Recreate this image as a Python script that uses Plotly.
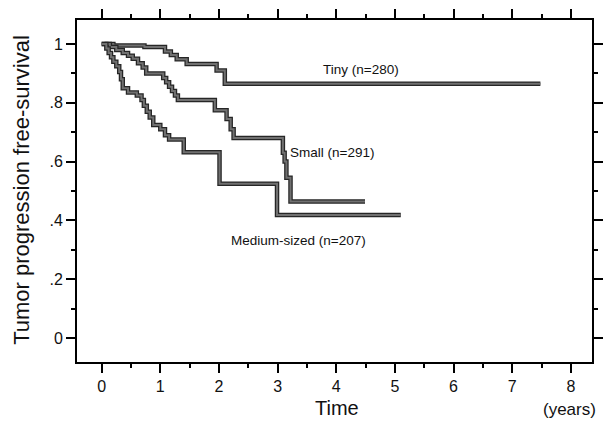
import plotly.graph_objects as go

# Kaplan-Meier step data (years, survival)
tiny_t = [0.0, 0.20, 0.73, 1.08, 1.18, 1.28, 1.45, 1.96, 2.10, 7.48]
tiny_s = [1.0, 0.995, 0.99, 0.975, 0.963, 0.948, 0.932, 0.91, 0.865, 0.865]

small_t = [0.05, 0.14, 0.25, 0.36, 0.45, 0.53, 0.62, 0.70, 0.76, 1.05, 1.10, 1.15, 1.20,
           1.25, 1.30, 1.93, 2.13, 2.20, 2.25, 3.09, 3.12, 3.15, 3.22, 4.49]
small_s = [1.0, 0.99, 0.98, 0.97, 0.96, 0.95, 0.935, 0.92, 0.90, 0.885, 0.87, 0.855, 0.84,
           0.825, 0.81, 0.775, 0.745, 0.71, 0.68, 0.63, 0.60, 0.545, 0.464, 0.464]

med_t = [0.0, 0.08, 0.12, 0.16, 0.20, 0.25, 0.30, 0.33, 0.36, 0.45, 0.60, 0.68, 0.72,
         0.77, 0.82, 0.88, 1.00, 1.08, 1.15, 1.40, 2.01, 2.99, 5.10]
med_s = [1.0, 0.985, 0.97, 0.955, 0.94, 0.925, 0.905, 0.88, 0.85, 0.835, 0.825, 0.81, 0.79,
         0.77, 0.75, 0.725, 0.71, 0.69, 0.675, 0.632, 0.525, 0.418, 0.418]

group_labels = ["Tiny (n=280)", "Small (n=291)", "Medium-sized (n=207)"]
label_x = [4.42, 3.18, 3.36]
label_y = [0.912, 0.632, 0.333]
label_anchor = ["center", "left", "center"]

y_tickvals = [0, 0.2, 0.4, 0.6, 0.8, 1.0]
y_ticktext = ["0", ".2", ".4", ".6", ".8", "1"]
y_minorvals = [0.1, 0.3, 0.5, 0.7, 0.9]
x_tickvals = [0, 1, 2, 3, 4, 5, 6, 7, 8]
x_minorvals = [0.5, 1.5, 2.5, 3.5, 4.5, 5.5, 6.5, 7.5]

X_RANGE = [-0.42, 8.36]
Y_RANGE = [-0.082, 1.082]

FONT = "Liberation Sans, Arial, Helvetica, sans-serif"
MAJOR_LEN, MINOR_LEN = 9, 5

fig = go.Figure()
for t, s in [(tiny_t, tiny_s), (small_t, small_s), (med_t, med_s)]:
    fig.add_trace(go.Scatter(x=t, y=s, mode="lines", line=dict(shape="hv", color="#262626", width=4.5),
                             hoverinfo="skip", showlegend=False))
    fig.add_trace(go.Scatter(x=t, y=s, mode="lines", line=dict(shape="hv", color="#707070", width=2),
                             hoverinfo="skip", showlegend=False))

# invisible anchor trace so the overlay minor-tick axes are drawn
fig.add_trace(go.Scatter(x=[x_tickvals[1]], y=[y_tickvals[1]], xaxis="x2", yaxis="y2",
                         mode="markers", marker=dict(opacity=0), hoverinfo="skip", showlegend=False))

for txt, x, y, a in zip(group_labels, label_x, label_y, label_anchor):
    fig.add_annotation(x=x, y=y, text=txt, showarrow=False, xanchor=a, yanchor="middle",
                       font=dict(family=FONT, size=13.5, color="#111"))

fig.add_annotation(xref="paper", yref="paper", x=0.505, y=-0.135, text="Time", showarrow=False,
                   xanchor="center", yanchor="middle", font=dict(family=FONT, size=20, color="#111"))
fig.add_annotation(xref="paper", yref="paper", x=0.957, y=-0.14, text="(years)", showarrow=False,
                   xanchor="center", yanchor="middle", font=dict(family=FONT, size=17, color="#111"))
fig.add_annotation(xref="paper", yref="paper", x=-0.107, y=0.503, text="Tumor progression free-survival",
                   showarrow=False, textangle=-90, xanchor="center", yanchor="middle",
                   font=dict(family=FONT, size=22, color="#111"))

main_axis = dict(showgrid=False, zeroline=False, showline=True, linecolor="black", linewidth=2,
                 mirror="ticks", ticks="outside", tickwidth=2, tickcolor="black", ticklen=MAJOR_LEN,
                 tickfont=dict(family=FONT, size=16, color="#111"), automargin=False)


def minor_axis(vals, side, over, anchor):
    return dict(range=X_RANGE if over == "x" else Y_RANGE, overlaying=over, side=side, anchor=anchor,
                tickmode="array", tickvals=vals, ticks="outside", ticklen=MINOR_LEN, tickwidth=2,
                tickcolor="black", showticklabels=False, showgrid=False, zeroline=False,
                showline=False, mirror="ticks", automargin=False)


fig.update_layout(
    width=603, height=429, margin=dict(l=77, r=11, t=20, b=67, autoexpand=False),
    plot_bgcolor="white", paper_bgcolor="white",
    xaxis=dict(range=X_RANGE, tickmode="array", tickvals=x_tickvals, **main_axis),
    yaxis=dict(range=Y_RANGE, tickmode="array", tickvals=y_tickvals, ticktext=y_ticktext, **main_axis),
    xaxis2=minor_axis(x_minorvals, "bottom", "x", "y2"),
    yaxis2=minor_axis(y_minorvals, "left", "y", "x2"),
)

fig.write_html("out.html", config={"displayModeBar": False},
               post_script="document.body.style.margin='0';")
